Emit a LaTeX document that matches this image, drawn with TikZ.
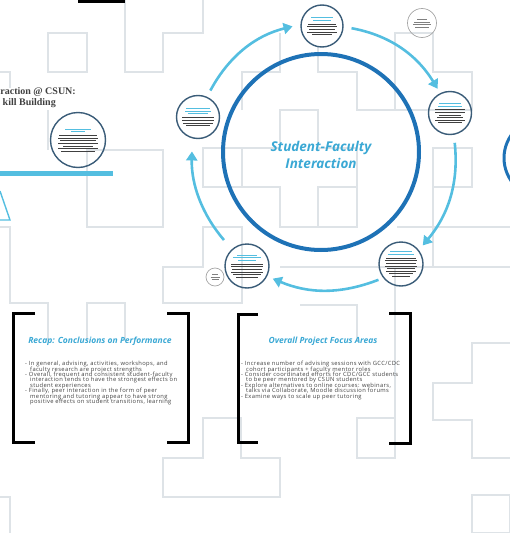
\documentclass[tikz,border=0pt]{standalone}
\usepackage{fontspec}
\setmainfont{Open Sans}
\newfontfamily\slabfont{Liberation Serif}
\newfontfamily\notefont[LetterSpace=6]{Open Sans}
\usetikzlibrary{arrows.meta}
\definecolor{sky}{RGB}{84,190,224}
\definecolor{ocean}{RGB}{30,114,182}
\definecolor{headblue}{RGB}{58,168,212}
\definecolor{gridgray}{RGB}{222,227,231}
\definecolor{ink}{RGB}{64,64,64}
\definecolor{rim}{RGB}{58,92,120}
\newcommand{\ttl}[1]{\textcolor{sky}{\rule{#1pt}{0.9pt}}}
\newcommand{\txt}[1]{\textcolor{ink}{\rule{#1pt}{0.6pt}}}
\newcommand{\pen}[1]{\textcolor{gray}{\rule{#1pt}{0.5pt}}}
\newcommand{\smalllines}{\notefont\fontsize{5.8}{5.45}\selectfont\lineskiplimit=-6pt\relax\lineskip=0pt\relax}

\begin{document}
\begin{tikzpicture}[x=1pt,y=-1pt,
  tile/.style={draw=gridgray,line width=1.2pt},
  spot/.style={circle,draw=rim,line width=1.4pt,inner sep=0pt,align=center,font=\fontsize{2}{2.6}\selectfont},
  dot/.style={circle,draw=gray!70,line width=0.7pt,inner sep=0pt,align=center,font=\fontsize{2}{2.5}\selectfont},
  hub/.style={circle,draw=ocean,line width=4pt,minimum size=196pt},
  flow/.style={draw=sky,line width=2.6pt,-{Triangle[length=9pt,width=11pt]}},
  bracket/.style={line width=3pt},
  heading/.style={font=\fontsize{8.5}{9}\bfseries\itshape\selectfont,text=headblue,inner sep=0pt},
  body/.style={font=\smalllines,text=ink,align=left,inner sep=0pt}]
\useasboundingbox (0,0) rectangle (510,533);
\clip (0,0) rectangle (510,533);

\draw[tile] (125,0) -- (125,72) -- (163,72) -- (163,33) -- (203,33) -- (203,0);
\draw[tile] (48,33) rectangle (87,72);
\draw[tile] (0,72) -- (10,72) -- (10,88);
\draw[tile] (48,110) -- (48,150);
\draw[tile] (87,150) rectangle (163,227);
\draw[tile] (0,227) -- (10,227) -- (10,303) -- (48,303) -- (48,341);
\draw[tile] (87,341) -- (87,303) -- (125,303) -- (125,341);
\draw[tile] (163,303) -- (163,267) -- (203,267) -- (203,227) -- (242,227) -- (242,303) -- cycle;
\draw[tile] (203,148) rectangle (242,187);
\draw[tile] (318,187) rectangle (357,227);
\draw[tile] (433,148) rectangle (472,187);
\draw[tile] (280,110) -- (318,110) -- (318,148) -- (357,148) -- (357,187) -- (318,187) -- (318,227) -- (280,227) -- (280,187) -- (242,187) -- (242,148) -- (280,148) -- cycle;
\draw[tile] (397,227) -- (510,227);
\draw[tile] (433,187) -- (433,267);
\draw[tile] (280,267) -- (510,267);
\draw[tile] (395,267) -- (395,458);
\draw[tile] (300,305) -- (357,305) -- (357,341);
\draw[tile] (357,418) rectangle (395,458);
\draw[tile] (510,343) -- (472,343) -- (472,383) -- (433,383) -- (433,420) -- (472,420) -- (472,458) -- (510,458);
\draw[tile] (472,495) rectangle (510,533);
\draw[tile] (241,418) -- (203,418) -- (203,458) -- (163,458) -- (163,497) -- (280,497) -- (280,458) -- (241,458) -- cycle;
\draw[tile] (0,497) -- (10,497) -- (10,533);
\draw[tile] (395,110) -- (395,33) -- (433,33) -- (433,72) -- (472,72) -- (472,110) -- cycle;
\draw[tile] (318,47) -- (318,72) -- (357,72) -- (357,110) -- (395,110);
\draw[tile] (242,110) -- (242,72) -- (280,72) -- (280,33);

\fill (78,-1) rectangle (125,3);
\node[anchor=base east,inner sep=0pt,text=ink,font=\slabfont\bfseries\fontsize{10}{12}\selectfont] (title1) at (76,94) {raction @ CSUN:};
\node[anchor=base east,inner sep=0pt,text=ink,font=\slabfont\bfseries\fontsize{10}{12}\selectfont] (title2) at (56,105.5) {kill Building};
\draw[sky,line width=5pt] (0,173) -- (113,173);
\draw[sky,line width=1.4pt] (0,191) -- (10,220) -- (0,220);

\node[spot,minimum size=55pt] (side) at (78,140) {\ttl{26}\\\ttl{14}\\[1pt]\txt{38}\\\txt{40}\\\txt{36}\\\txt{40}\\\txt{30}\\\txt{40}\\\txt{34}};

\node[hub] (hub) at (321,152) {};
\node[circle,draw=ocean,line width=3pt,minimum size=80pt] (next) at (544,158) {};
\node[align=center,text=headblue,font=\fontsize{13.5}{17}\bfseries\itshape\selectfont] (hubtitle) at (321,154.5) {Student-Faculty\\Interaction};

\node[spot,minimum size=42pt] (top) at (322,26) {\ttl{22}\\\ttl{18}\\[1pt]\txt{28}\\\txt{30}\\\txt{26}\\\txt{30}\\\txt{20}};
\node[spot,minimum size=43pt] (right) at (450,113) {\ttl{22}\\\ttl{24}\\[1pt]\txt{30}\\\txt{30}\\\txt{22}\\\txt{26}\\\txt{30}\\\txt{24}};
\node[spot,minimum size=44pt] (lowright) at (401,264) {\ttl{22}\\\ttl{26}\\[1pt]\txt{30}\\\txt{32}\\\txt{30}\\\txt{32}\\\txt{28}\\\txt{30}\\\txt{24}\\\txt{18}};
\node[spot,minimum size=44pt] (lowleft) at (247,266) {\ttl{20}\\\ttl{28}\\\ttl{18}\\[1pt]\txt{32}\\\txt{32}\\\txt{30}\\\txt{32}\\\txt{28}\\\txt{22}};
\node[spot,minimum size=43pt] (left) at (198,117) {\ttl{24}\\\ttl{26}\\\ttl{20}\\[1pt]\txt{32}\\\txt{32}\\\txt{30}\\\txt{24}};
\node[dot,minimum size=29pt] (mini) at (422,23) {\pen{10}\\\pen{16}\\\pen{18}\\\pen{14}};
\node[dot,minimum size=18pt] (tiny) at (215,277) {\pen{6}\\\pen{9}\\\pen{7}};

\draw[flow,shorten <=7pt,shorten >=8pt] (left.66) to[bend left=24] (top.176);
\draw[flow,shorten <=8pt,shorten >=5pt] (top.-2) to[bend left=24] (right.116);
\draw[flow,shorten <=8pt,shorten >=6pt] (right.-80) to[bend left=23] (lowright.38);
\draw[flow,shorten <=5pt,shorten >=6pt] (lowright.218) to[bend left=22] (lowleft.-27);
\draw[flow,shorten <=12pt,shorten >=13pt] (lowleft.132) to[bend left=21] (left.-105);

\draw[bracket] (35,313) -- (13,313) -- (13,442) -- (35,442);
\draw[bracket] (167,313) -- (188,313) -- (188,442) -- (167,442);
\draw[bracket] (258,314) -- (238,314) -- (238,442) -- (258,442);
\draw[bracket] (389,313) -- (410,313) -- (410,443) -- (389,443);

\node[heading] (recaptitle) at (100,341) {Recap: Conclusions on Performance};
\node[body,anchor=north west] (recapbody) at (25,361) {- In general, advising, activities, workshops, and\\
\hspace*{5pt}faculty research are project strengths\\
- Overall, frequent and consistent student-faculty\\
\hspace*{5pt}interaction tends to have the strongest effects on\\
\hspace*{5pt}student experiences\\
- Finally, peer interaction in the form of peer\\
\hspace*{5pt}mentoring and tutoring appear to have strong\\
\hspace*{5pt}positive effects on student transitions, learning};

\node[heading] (focustitle) at (323,341) {Overall Project Focus Areas};
\node[body,anchor=north west] (focusbody) at (241,361) {- Increase number of advising sessions with GCC/CDC\\
\hspace*{5pt}cohort participants + faculty mentor roles\\
- Consider coordinated efforts for CDC/GCC students\\
\hspace*{5pt}to be peer mentored by CSUN students\\
- Explore alternatives to online courses: webinars,\\
\hspace*{5pt}talks via Collaborate, Moodle discussion forums\\
- Examine ways to scale up peer tutoring};
\end{tikzpicture}
\end{document}
